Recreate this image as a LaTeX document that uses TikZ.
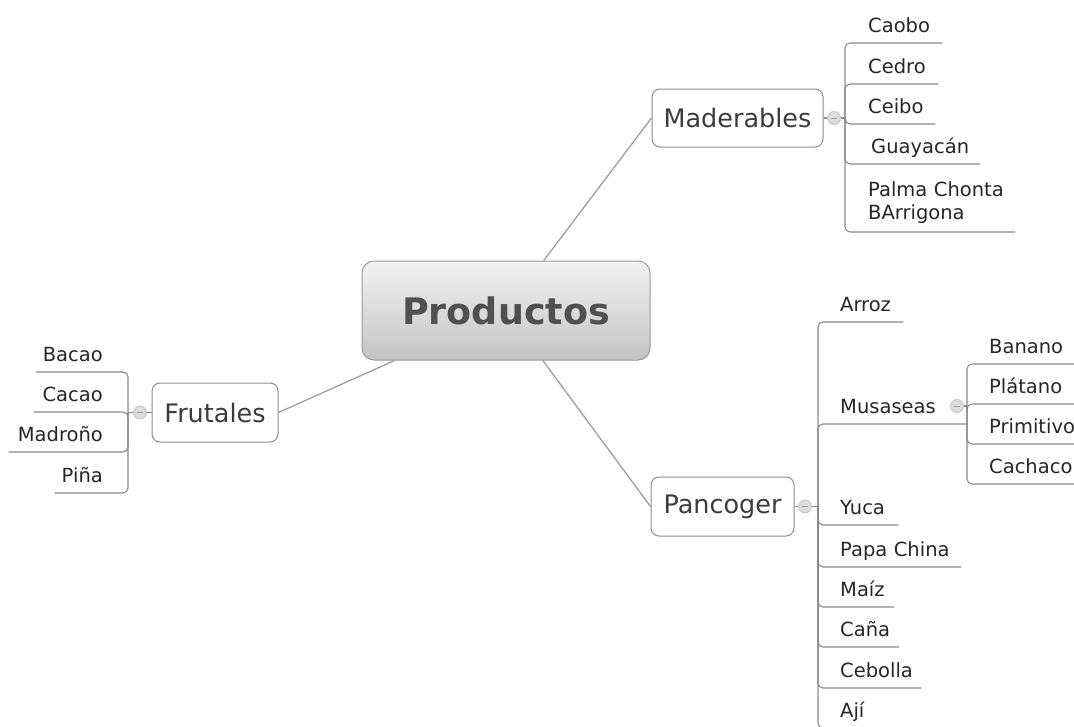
\documentclass[tikz,border=0pt]{standalone}
\usepackage{fontspec}
\setmainfont{DejaVu Sans}
\definecolor{rootline}{HTML}{9A9A9A}
\definecolor{roottop}{HTML}{F2F2F2}
\definecolor{rootbot}{HTML}{C4C4C4}
\definecolor{roottext}{HTML}{505050}
\definecolor{boxline}{HTML}{8C8C8C}
\definecolor{midtext}{HTML}{3C3C3C}
\definecolor{leaftext}{HTML}{262626}
\definecolor{branch}{HTML}{9E9E9E}
\definecolor{wire}{HTML}{8A8A8A}
\definecolor{knobfill}{HTML}{DCDCDC}
\definecolor{knobline}{HTML}{C4C4C4}
\definecolor{knobdash}{HTML}{9E9E9E}
\begin{document}
\begin{tikzpicture}[x=1pt,y=-1pt,
  root/.style={draw=rootline, line width=1pt, rounded corners=12pt,
    top color=roottop, bottom color=rootbot, inner sep=0pt,
    text=roottext, font=\fontsize{36.5}{44}\selectfont\bfseries},
  topic/.style={draw=boxline, line width=1pt, rounded corners=8pt, fill=white,
    inner sep=0pt, text=midtext, font=\fontsize{25.5}{30}\selectfont},
  leafR/.style={anchor=south west, inner sep=0pt, text depth=10pt,
    align=left, text=leaftext, font=\fontsize{19.5}{23}\selectfont},
  leafL/.style={anchor=south east, inner sep=0pt, text depth=10pt,
    align=right, text=leaftext, font=\fontsize{19.5}{23}\selectfont},
  branchline/.style={draw=branch, line width=1.3pt},
  wireline/.style={draw=wire, line width=1.1pt, rounded corners=5pt},
  knob/.style={circle, fill=knobfill, draw=knobline, line width=0.8pt,
    minimum size=13pt, inner sep=0pt,
    path picture={\draw[knobdash, line width=0.9pt]
      ([xshift=-3pt]path picture bounding box.center) --
      ([xshift=3pt]path picture bounding box.center);}}
]
\path[use as bounding box] (0,0) rectangle (1074,726);
\clip (0,0) rectangle (1074,726);

% central topic and main branches
\node[root, minimum width=288pt, minimum height=99pt] (prod) at (506,310.5) {Productos};
\node[topic, minimum width=171pt, minimum height=58pt] (mad) at (737.5,118) {Maderables};
\node[topic, minimum width=143pt, minimum height=59pt] (pan) at (722.5,506.5) {Pancoger};
\node[topic, minimum width=126pt, minimum height=59pt] (fru) at (215,412.5) {Frutales};

\draw[branchline] (prod) -- (mad.west);
\draw[branchline] (prod) -- (pan.west);
\draw[branchline] (prod) -- (fru.east);

% Maderables subtree
\node[knob] (madK) at (834,118) {};
\coordinate (madP) at (845,118);
\node[leafR, text width=74pt] (caobo) at (868,43) {Caobo};
\node[leafR, text width=70pt] (cedro) at (868,84) {Cedro};
\node[leafR, text width=67pt] (ceibo) at (868,124) {Ceibo};
\node[leafR, text width=109pt] (guaya) at (871,164) {Guayacán};
\node[leafR, text width=147pt, text depth=35pt] (palma) at (868,232) {Palma Chonta\\BArrigona};
\draw[wireline] (mad.east) -- (madK);
\draw[wireline] (madK) -- (madP);
\foreach \n in {caobo,cedro,ceibo,guaya,palma}
  \draw[wireline] (madP) |- (\n.south east);

% Pancoger subtree
\node[knob] (panK) at (805,506.5) {};
\coordinate (panP) at (818,506.5);
\node[leafR, text width=63pt] (arroz) at (840,322) {Arroz};
\node[leafR, text width=127pt] (musa) at (840,424) {Musaseas};
\node[leafR, text width=58pt] (yuca) at (840,525) {Yuca};
\node[leafR, text width=121pt] (papa) at (840,567) {Papa China};
\node[leafR, text width=54pt] (maiz) at (840,607) {Maíz};
\node[leafR, text width=59pt] (cana) at (840,647) {Caña};
\node[leafR, text width=81pt] (cebolla) at (840,688) {Cebolla};
\node[leafR, text width=50pt] (aji) at (840,728) {Ají};
\draw[wireline] (pan.east) -- (panK);
\draw[wireline] (panK) -- (panP);
\foreach \n in {arroz,musa,yuca,papa,maiz,cana,cebolla,aji}
  \draw[wireline] (panP) |- (\n.south east);

% Musaseas subtree
\node[knob] (musK) at (957,406) {};
\coordinate (musP) at (967,406);
\node[leafR, text width=95pt] (banano) at (989,364) {Banano};
\node[leafR, text width=95pt] (platano) at (989,404) {Plátano};
\node[leafR, text width=95pt] (primi) at (989,444) {Primitivo};
\node[leafR, text width=95pt] (cacha) at (989,484) {Cachaco};
\draw[wireline] (musK) -- (musP);
\foreach \n in {banano,platano,primi,cacha}
  \draw[wireline] (musP) |- (\n.south east);

% Frutales subtree
\node[knob] (fruK) at (140,412.5) {};
\coordinate (fruP) at (128,412.5);
\node[leafL, text width=67pt] (bacao) at (103,372) {Bacao};
\node[leafL, text width=69pt] (cacao) at (103,412) {Cacao};
\node[leafL, text width=94pt] (madro) at (103,452) {Madroño};
\node[leafL, text width=48pt] (pina) at (103,493) {Piña};
\draw[wireline] (fru.west) -- (fruK);
\draw[wireline] (fruK) -- (fruP);
\foreach \n in {bacao,cacao,madro,pina}
  \draw[wireline] (fruP) |- (\n.south west);
\end{tikzpicture}
\end{document}
